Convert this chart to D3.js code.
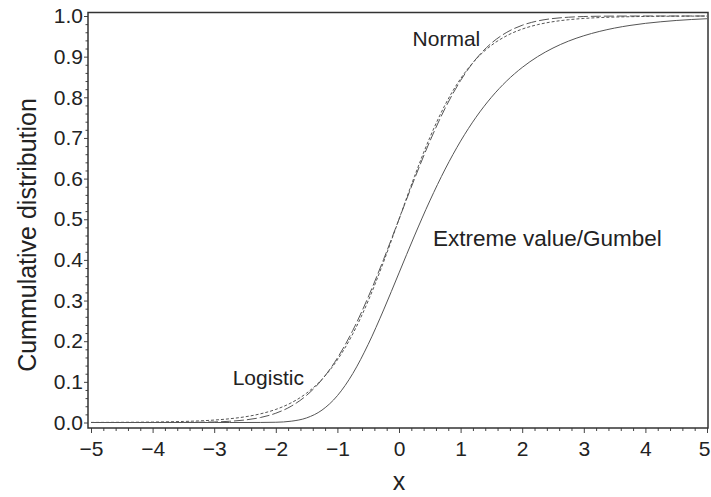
<!DOCTYPE html>
<html><head><meta charset="utf-8">
<script src="https://cdn.jsdelivr.net/npm/d3@7"></script>
<style>
body{margin:0;background:#fff;}
text{font-family:"Liberation Sans",Arial,Helvetica,sans-serif;fill:#222;}
</style></head>
<body><svg id="c" width="711" height="497"></svg>
<script>
// x positions at which values were read
const xs = [-5,-4.75,-4.5,-4.25,-4,-3.75,-3.5,-3.25,-3,-2.75,-2.5,-2.25,-2,-1.75,-1.5,-1.25,-1,-0.75,-0.5,-0.25,0,
            0.25,0.5,0.75,1,1.25,1.5,1.75,2,2.25,2.5,2.75,3,3.25,3.5,3.75,4,4.25,4.5,4.75,5];
const normalVals = [0,0,0,0,0,0.0001,0.0002,0.0006,0.0013,0.003,0.0062,0.0122,0.0228,0.0401,0.0668,0.1056,0.1587,0.2266,0.3085,0.4013,0.5,
            0.5987,0.6915,0.7734,0.8413,0.8944,0.9332,0.9599,0.9772,0.9878,0.9938,0.997,0.9987,0.9994,0.9998,0.9999,1,1,1,1,1];
const logisticVals = [0.0002,0.0003,0.0005,0.0007,0.0011,0.0017,0.0026,0.0039,0.006,0.0092,0.014,0.0213,0.0322,0.0484,0.0722,0.1064,0.1542,0.2181,0.2992,0.3952,0.5,
            0.6048,0.7008,0.7819,0.8458,0.8936,0.9278,0.9516,0.9678,0.9787,0.986,0.9908,0.994,0.9961,0.9974,0.9983,0.9989,0.9993,0.9995,0.9997,0.9998];
const gumbelVals = [0,0,0,0,0,0,0,0,0,0,0,0.0001,0.0006,0.0032,0.0113,0.0305,0.066,0.1204,0.1923,0.2769,0.3679,
            0.4589,0.5452,0.6235,0.6922,0.7509,0.8,0.8405,0.8734,0.9,0.9212,0.9381,0.9514,0.9619,0.9703,0.9768,0.9819,0.9858,0.989,0.9914,0.9933];
const xTicks = [-5,-4,-3,-2,-1,0,1,2,3,4,5];
const yTicks = [0,0.1,0.2,0.3,0.4,0.5,0.6,0.7,0.8,0.9,1.0];
const xTitle = "x";
const yTitle = "Cummulative distribution";
const labels = [
  {text:"Normal", x:0.22, y:0.925, size:21},
  {text:"Logistic", x:-2.7, y:0.093, size:21},
  {text:"Extreme value/Gumbel", x:0.55, y:0.435, size:22.5}
];

const svg = d3.select("#c");
const frame = {l:88, r:708, t:12.5, b:428};
const x = d3.scaleLinear().domain([-5,5]).range([91,707]);
const y = d3.scaleLinear().domain([0,1]).range([422.5,16]);

// minor ticks
const xMinor = d3.range(-50,51,2).map(d=>d/10).filter(d=>!xTicks.includes(d));
const yMinor = d3.range(0,101,2).map(d=>d/100).filter(d=>Math.abs(d*10-Math.round(d*10))>1e-6);

const gx = svg.append("g").attr("transform",`translate(0,${frame.b})`);
gx.call(d3.axisBottom(x).tickValues(xTicks).tickSize(5).tickPadding(8).tickFormat(d3.format("d")));
gx.append("g").call(d3.axisBottom(x).tickValues(xMinor).tickSize(3).tickFormat(""));
gx.selectAll(".domain").remove();
gx.selectAll("line").attr("stroke","#444");
gx.selectAll("text").attr("font-size",21).attr("fill","#222")
  .style("font-family",'"Liberation Sans",Arial,sans-serif');
gx.selectAll(".tick text").filter(d=>d===5).attr("dx",-3);

const gy = svg.append("g").attr("transform",`translate(${frame.l},0)`);
gy.call(d3.axisLeft(y).tickValues(yTicks).tickSize(4).tickPadding(1).tickFormat(d3.format(".1f")));
gy.append("g").call(d3.axisLeft(y).tickValues(yMinor).tickSize(2.5).tickFormat(""));
gy.selectAll(".domain").remove();
gy.selectAll("line").attr("stroke","#444");
gy.selectAll("text").attr("font-size",21).attr("fill","#222")
  .style("font-family",'"Liberation Sans",Arial,sans-serif');

// frame
svg.append("rect").attr("x",frame.l).attr("y",frame.t)
  .attr("width",frame.r-frame.l).attr("height",frame.b-frame.t)
  .attr("fill","none").attr("stroke","#333").attr("stroke-width",1.5);

const line = vals => d3.line().x((d,i)=>x(xs[i])).y(d=>y(d)).curve(d3.curveMonotoneX)(vals);
svg.append("path").attr("d",line(gumbelVals)).attr("fill","none").attr("stroke","#555").attr("stroke-width",1);
svg.append("path").attr("d",line(normalVals)).attr("fill","none").attr("stroke","#555").attr("stroke-width",1).attr("stroke-dasharray","10,3");
svg.append("path").attr("d",line(logisticVals)).attr("fill","none").attr("stroke","#555").attr("stroke-width",1).attr("stroke-dasharray","3,2");

labels.forEach(l=>{
  svg.append("text").attr("x",x(l.x)).attr("y",y(l.y)).attr("font-size",l.size).text(l.text);
});

svg.append("text").attr("x",x(0)).attr("y",490).attr("text-anchor","middle").attr("font-size",25).text(xTitle);
svg.append("text").attr("transform",`translate(36,235) rotate(-90)`).attr("text-anchor","middle").attr("font-size",25).text(yTitle);
</script></body></html>
